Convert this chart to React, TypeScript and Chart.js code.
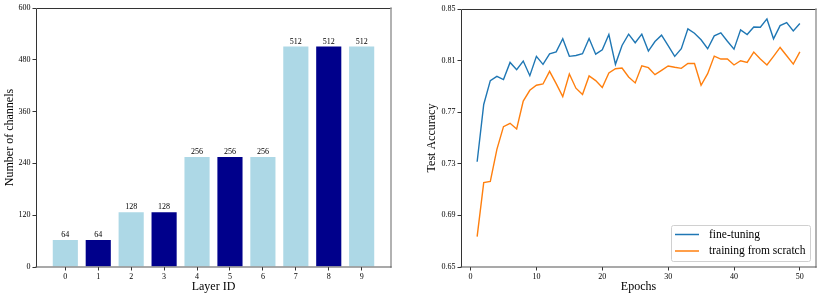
import React, { useEffect, useRef } from "react";
import { Chart, registerables } from "chart.js";

Chart.register(...registerables);

const layerIds = [0, 1, 2, 3, 4, 5, 6, 7, 8, 9];
const channels = [64, 64, 128, 128, 256, 256, 256, 512, 512, 512];
const barShades = ["light", "dark", "light", "dark", "light", "dark", "light", "light", "dark", "light"];
const channelTicks = [0, 120, 240, 360, 480, 600];

const epochs = Array.from({ length: 50 }, (_, i) => i + 1);
const fineTuning = [
  0.7316, 0.776, 0.7945, 0.7978, 0.7953, 0.8086, 0.803, 0.8097, 0.7983, 0.8133,
  0.8071, 0.8153, 0.8168, 0.8269, 0.8133, 0.814, 0.8153, 0.8271, 0.815, 0.8184,
  0.8302, 0.8071, 0.8217, 0.8305, 0.8238, 0.8305, 0.8174, 0.8248, 0.8297, 0.8217,
  0.8133, 0.8192, 0.8346, 0.8312, 0.8261, 0.8192, 0.8292, 0.8315, 0.825, 0.8189,
  0.8338, 0.8302, 0.8361, 0.8359, 0.8423, 0.8269, 0.8371, 0.8395, 0.833, 0.8387,
];
const fromScratch = [
  0.6735, 0.7154, 0.7164, 0.7412, 0.7588, 0.7614, 0.757, 0.7786, 0.787, 0.7909,
  0.7919, 0.8017, 0.7922, 0.7821, 0.7996, 0.7886, 0.7837, 0.7981, 0.7945, 0.7891,
  0.8004, 0.8037, 0.8042, 0.7973, 0.7927, 0.806, 0.8045, 0.7991, 0.8024, 0.8058,
  0.8048, 0.804, 0.8078, 0.8078, 0.7909, 0.7999, 0.8135, 0.8112, 0.8112, 0.8066,
  0.8099, 0.8086, 0.8166, 0.8112, 0.8066, 0.8133, 0.8202, 0.8138, 0.8073, 0.8168,
];
const accTicks = [0.65, 0.69, 0.73, 0.77, 0.81, 0.85];
const epochTicks = [0, 10, 20, 30, 40, 50];

const FONT = "'Liberation Serif', 'Times New Roman', serif";
const LIGHT = "#add8e6";
const DARK = "#00008b";
const BLUE = "#1f77b4";
const ORANGE = "#ff7f0e";
const TICK_SIZE = 8;
const TITLE_SIZE = 12;

const framePlugin = {
  id: "frame",
  afterDraw(chart: any) {
    const { ctx, chartArea: a } = chart;
    ctx.save();
    ctx.lineCap = "square";
    ctx.strokeStyle = "#333";
    ctx.lineWidth = 1;
    ctx.beginPath();
    ctx.moveTo(a.left + 0.5, a.bottom);
    ctx.lineTo(a.left + 0.5, a.top + 0.5);
    ctx.lineTo(a.right, a.top + 0.5);
    ctx.stroke();
    ctx.strokeStyle = "#999";
    ctx.lineWidth = 1.5;
    ctx.beginPath();
    ctx.moveTo(a.right, a.top);
    ctx.lineTo(a.right, a.bottom);
    ctx.stroke();
    ctx.strokeStyle = "#555";
    ctx.lineWidth = 1.2;
    ctx.beginPath();
    ctx.moveTo(a.left, a.bottom);
    ctx.lineTo(a.right, a.bottom);
    ctx.stroke();
    ctx.restore();
  },
};

const barLabelPlugin = {
  id: "barLabels",
  afterDatasetsDraw(chart: any) {
    const { ctx } = chart;
    const meta = chart.getDatasetMeta(0);
    ctx.save();
    ctx.font = `8px ${FONT}`;
    ctx.fillStyle = "#000";
    ctx.textAlign = "center";
    ctx.textBaseline = "bottom";
    meta.data.forEach((bar: any, i: number) => {
      ctx.fillText(String(channels[i]), bar.x, bar.y - 0.5);
    });
    ctx.restore();
  },
};

const legendPlugin = {
  id: "innerLegend",
  afterDraw(chart: any) {
    const { ctx, chartArea: a } = chart;
    const w = 139;
    const h = 36;
    const x0 = a.right - 6 - w;
    const y0 = a.bottom - 6 - h;
    ctx.save();
    ctx.fillStyle = "rgba(255,255,255,0.8)";
    ctx.strokeStyle = "#d0d0d0";
    ctx.lineWidth = 1;
    ctx.beginPath();
    (ctx as any).roundRect(x0 + 0.5, y0 + 0.5, w, h, 2);
    ctx.fill();
    ctx.stroke();
    ctx.font = `11.5px ${FONT}`;
    ctx.textBaseline = "middle";
    ctx.textAlign = "left";
    chart.data.datasets.forEach((ds: any, i: number) => {
      const y = y0 + 9.5 + i * 16.5;
      ctx.strokeStyle = ds.borderColor;
      ctx.lineWidth = 1.5;
      ctx.beginPath();
      ctx.moveTo(x0 + 4, y);
      ctx.lineTo(x0 + 28, y);
      ctx.stroke();
      ctx.fillStyle = "#000";
      ctx.fillText(ds.label, x0 + 38, y);
    });
    ctx.restore();
  },
};

function axisCommon() {
  return {
    grid: { display: true, offset: false, drawOnChartArea: false, drawTicks: true, tickLength: 3.5, color: "#000", lineWidth: 0.8 },
    border: { display: false },
  };
}

function BarChart() {
  const ref = useRef<HTMLCanvasElement>(null);
  useEffect(() => {
    const chart = new Chart(ref.current!, {
      type: "bar",
      data: {
        datasets: [
          {
            label: "channels",
            data: layerIds.map((id, i) => ({ x: id, y: channels[i] })),
            backgroundColor: barShades.map((s) => (s === "dark" ? DARK : LIGHT)),
            borderColor: "#ffffff",
            borderWidth: 0.6,
            barPercentage: 0.8,
            categoryPercentage: 1,
          },
        ],
      },
      options: {
        animation: false,
        responsive: false,
        maintainAspectRatio: false,
        layout: { padding: { left: 0, right: 20, top: 8, bottom: 0 } },
        plugins: { legend: { display: false }, tooltip: { enabled: false } },
        scales: {
          x: {
            type: "linear",
            min: -0.89,
            max: 9.89,
            offset: false,
            ...axisCommon(),
            afterBuildTicks: (s: any) => {
              s.ticks = layerIds.map((v) => ({ value: v }));
            },
            afterFit: (s: any) => {
              s.height = 32;
            },
            ticks: { font: { family: FONT, size: TICK_SIZE }, color: "#000", padding: 2, maxRotation: 0, autoSkip: false },
            title: { display: true, text: "Layer ID", font: { family: FONT, size: TITLE_SIZE }, color: "#000", padding: { top: 0, bottom: 5 } },
          },
          y: {
            min: 0,
            max: 600,
            ...axisCommon(),
            afterBuildTicks: (s: any) => {
              s.ticks = channelTicks.map((v) => ({ value: v }));
            },
            afterFit: (s: any) => {
              s.width = 36;
            },
            ticks: { font: { family: FONT, size: TICK_SIZE }, color: "#000", padding: 2 },
            title: { display: true, text: "Number of channels", font: { family: FONT, size: TITLE_SIZE }, color: "#000", padding: { top: 3, bottom: 2 } },
          },
        },
      } as any,
      plugins: [framePlugin, barLabelPlugin],
    });
    return () => chart.destroy();
  }, []);
  return <canvas ref={ref} width={411} height={299} style={{ position: "absolute", left: 0, top: 0 }} />;
}

function LineChart() {
  const ref = useRef<HTMLCanvasElement>(null);
  useEffect(() => {
    const chart = new Chart(ref.current!, {
      type: "line",
      data: {
        datasets: [
          {
            label: "fine-tuning",
            data: epochs.map((e, i) => ({ x: e, y: fineTuning[i] })),
            borderColor: BLUE,
            borderWidth: 1.4,
            pointRadius: 0,
            tension: 0,
            fill: false,
          },
          {
            label: "training from scratch",
            data: epochs.map((e, i) => ({ x: e, y: fromScratch[i] })),
            borderColor: ORANGE,
            borderWidth: 1.4,
            pointRadius: 0,
            tension: 0,
            fill: false,
          },
        ],
      },
      options: {
        animation: false,
        responsive: false,
        maintainAspectRatio: false,
        layout: { padding: { left: 0, right: 6, top: 9, bottom: 0 } },
        plugins: { legend: { display: false }, tooltip: { enabled: false } },
        scales: {
          x: {
            type: "linear",
            min: -1.45,
            max: 52.45,
            ...axisCommon(),
            afterBuildTicks: (s: any) => {
              s.ticks = epochTicks.map((v) => ({ value: v }));
            },
            afterFit: (s: any) => {
              s.height = 32;
            },
            ticks: { font: { family: FONT, size: TICK_SIZE }, color: "#000", padding: 2, maxRotation: 0, autoSkip: false },
            title: { display: true, text: "Epochs", font: { family: FONT, size: TITLE_SIZE }, color: "#000", padding: { top: 0, bottom: 5 } },
          },
          y: {
            type: "linear",
            min: 0.65,
            max: 0.85,
            ...axisCommon(),
            afterBuildTicks: (s: any) => {
              s.ticks = accTicks.map((v) => ({ value: v }));
            },
            afterFit: (s: any) => {
              s.width = 50;
            },
            ticks: {
              font: { family: FONT, size: TICK_SIZE },
              color: "#000",
              padding: 2,
              callback: (v: any) => Number(v).toFixed(2),
            },
            title: { display: true, text: "Test Accuracy", font: { family: FONT, size: TITLE_SIZE }, color: "#000", padding: { top: 14, bottom: 2 } },
          },
        },
      } as any,
      plugins: [framePlugin, legendPlugin],
    });
    return () => chart.destroy();
  }, []);
  return <canvas ref={ref} width={411} height={299} style={{ position: "absolute", left: 411, top: 0 }} />;
}

export default function App() {
  return (
    <div style={{ position: "fixed", left: 0, top: 0, width: 822, height: 299, background: "#fff", overflow: "hidden" }}>
      <BarChart />
      <LineChart />
    </div>
  );
}
